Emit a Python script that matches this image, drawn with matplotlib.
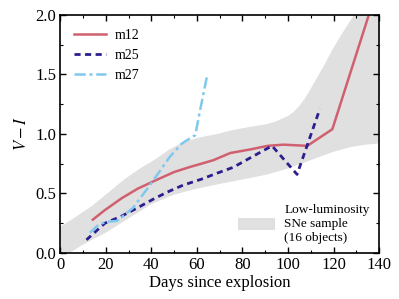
import numpy as np
import matplotlib
matplotlib.use("Agg")
import matplotlib.pyplot as plt
from matplotlib.ticker import MultipleLocator, FormatStrFormatter
from matplotlib.patches import Patch

plt.rcParams["font.family"] = ["Liberation Serif", "DejaVu Serif"]
plt.rcParams["mathtext.fontset"] = "stix"

# ── data ────────────────────────────────────────────────────────────────────
m12_day = [14.3, 19.6, 27, 34, 43, 50, 56.5, 62, 67.3, 74.7, 83.5, 91, 98, 108.5, 119.5, 135.5]
m12_vi = [0.28, 0.36, 0.46, 0.54, 0.62, 0.68, 0.72, 0.75, 0.78, 0.84, 0.87, 0.90, 0.91, 0.90, 1.04, 2.0]

m25_day = [11.5, 19.6, 27, 34, 41.6, 48, 54, 62, 68.8, 76, 83.5, 93, 104, 114]
m25_vi = [0.11, 0.25, 0.31, 0.38, 0.46, 0.52, 0.57, 0.62, 0.67, 0.72, 0.80, 0.90, 0.66, 1.21]

m27_day = [13, 17, 20, 25, 32, 39.4, 48.2, 53.4, 59.3, 61.1, 64.5]
m27_vi = [0.17, 0.24, 0.26, 0.27, 0.38, 0.57, 0.81, 0.92, 0.99, 1.17, 1.49]

# low-luminosity SNe envelope
band_hi_day = [0, 5, 13.6, 20, 28.3, 35, 42, 48, 54, 61, 69, 75, 83.5, 90, 94,
               97, 100, 102.5, 105, 107.5, 110, 113, 116, 119, 122, 125, 127, 129, 140]
band_hi = [0.22, 0.28, 0.39, 0.49, 0.62, 0.71, 0.79, 0.87, 0.93, 0.97, 1.0, 1.03, 1.06,
           1.08, 1.10, 1.125, 1.15, 1.185, 1.235, 1.30, 1.38, 1.48, 1.58, 1.69, 1.79,
           1.88, 1.94, 2.0, 2.0]
band_lo_day = [0, 4, 10, 20, 30, 40, 50, 60, 70, 83.5, 91, 100, 110, 120, 127.5, 134, 140]
band_lo = [-0.06, 0.0, 0.07, 0.17, 0.29, 0.41, 0.49, 0.54, 0.58, 0.63, 0.66, 0.71, 0.78,
           0.85, 0.89, 0.91, 0.92]

# ── plot ────────────────────────────────────────────────────────────────────
fig = plt.figure(figsize=(3.99, 2.99), dpi=100)
ax = fig.add_axes([0.151, 0.154, 0.799, 0.796])

band_x = np.concatenate([band_hi_day, band_lo_day[::-1]])
band_y = np.concatenate([band_hi, band_lo[::-1]])
ax.fill(band_x, band_y, color="#e0e0e0", lw=0, zorder=0)

l1, = ax.plot(m12_day, m12_vi, color="#d0606f", lw=1.8, label="m12")
l2, = ax.plot(m25_day, m25_vi, color="#2b1f8f", lw=2.0, ls=(0, (2.2, 1.6)), label="m25")
l3, = ax.plot(m27_day, m27_vi, color="#80c8ee", lw=1.8, ls=(0, (4.5, 1.5, 1.2, 1.5)), label="m27")

ax.set_xlim(0, 140)
ax.set_ylim(0, 2.0)
ax.xaxis.set_major_locator(MultipleLocator(20))
ax.xaxis.set_minor_locator(MultipleLocator(10))
ax.yaxis.set_major_locator(MultipleLocator(0.5))
ax.yaxis.set_minor_locator(MultipleLocator(0.25))
ax.yaxis.set_major_formatter(FormatStrFormatter("%.1f"))
ax.tick_params(which="both", direction="in", top=True, right=True, labelsize=12, pad=3)
ax.tick_params(which="major", length=4, width=1)
ax.tick_params(which="minor", length=2.5, width=0.8)
for s in ax.spines.values():
    s.set_linewidth(1.2)

ax.set_xlabel("Days since explosion", fontsize=12, labelpad=1)
ax.set_ylabel("$V-I$", fontsize=12, labelpad=4)

leg1 = ax.legend(handles=[l1, l2, l3], loc="upper left", frameon=False,
                 fontsize=10, handlelength=2.3, handletextpad=0.6,
                 labelspacing=0.5, borderaxespad=0.6)
ax.add_artist(leg1)
ax.legend(handles=[Patch(color="#e0e0e0", lw=0)],
          labels=["Low-luminosity\nSNe sample\n(16 objects)"],
          loc="lower right", frameon=False, fontsize=9.5,
          handlelength=2.8, handleheight=1.1, handletextpad=0.7,
          borderaxespad=0.4, borderpad=0.3)

fig.savefig("out.png", dpi=100)
